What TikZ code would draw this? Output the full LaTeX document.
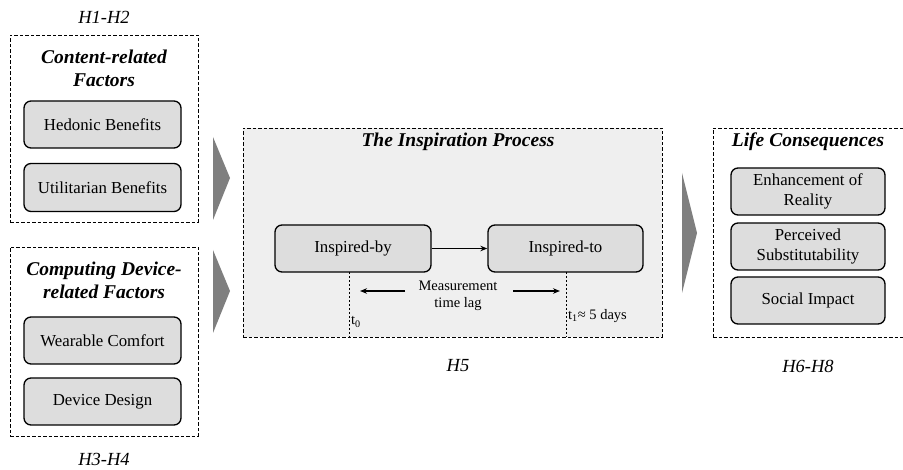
\documentclass[tikz,border=0pt]{standalone}
\usepackage{fontspec}
\setmainfont{Liberation Serif}
\usetikzlibrary{arrows.meta,calc}
\definecolor{boxgray}{HTML}{DDDDDD}
\definecolor{panelgray}{HTML}{EFEFEF}
\definecolor{chevgray}{HTML}{7F7F7F}
\begin{document}
\begin{tikzpicture}[x=1pt,y=-1pt,
  box/.style={draw, rounded corners=7pt, fill=boxgray, line width=1.3pt, minimum height=47pt, inner sep=0pt, align=center, font=\fontsize{16.8}{20}\selectfont},
  lbox/.style={box, minimum width=157pt},
  rbox/.style={box, minimum width=154pt},
  group/.style={draw, dash pattern=on 3.5pt off 2pt, line width=0.9pt, inner sep=0pt},
  gtitle/.style={font=\fontsize{19.5}{23}\selectfont\bfseries\itshape, align=center},
  hlabel/.style={font=\fontsize{18.5}{21}\selectfont\itshape},
  small/.style={font=\fontsize{14.5}{17}\selectfont, align=center},
  chev/.style={fill=chevgray},
  lag/.style={-{Stealth[length=7pt,width=5.5pt]}, line width=1.3pt},
  tick/.style={dash pattern=on 2.5pt off 1.5pt, line width=1pt}
]
\useasboundingbox (0,0) rectangle (903,470);

% left groups
\node[group, minimum width=188pt, minimum height=187pt] (g1) at (104,128.5) {};
\node[group, minimum width=188pt, minimum height=189pt] (g2) at (104,341.5) {};
\node[hlabel] (h12) at (104,17) {H1-H2};
\node[hlabel] (h34) at (104,459) {H3-H4};
\node[gtitle] (t1) at (104,68) {Content-related\\Factors};
\node[gtitle] (t2) at (104,280) {Computing Device-\\related Factors};
\node[lbox] (hed) at (102.5,124.5) {Hedonic Benefits};
\node[lbox, minimum height=48pt] (uti) at (102.5,187.5) {Utilitarian Benefits};
\node[lbox] (wea) at (102.5,340.5) {Wearable Comfort};
\node[lbox] (dev) at (102.5,401.5) {Device Design};

% chevrons
\fill[chev] (213,137) -- (230,178) -- (213,220) -- cycle;
\fill[chev] (213,250) -- (230,291) -- (213,333) -- cycle;
\fill[chev] (682,173) -- (697,233) -- (682,293) -- cycle;

% middle panel
\node[group, fill=panelgray, minimum width=419pt, minimum height=209pt] (mid) at (452.5,232.5) {};
\node[gtitle] (tm) at (458,142) {The Inspiration Process};
\node[box, minimum width=156pt] (iby) at (353,248.5) {Inspired-by};
\node[box, minimum width=155pt] (ito) at (565.5,248.5) {Inspired-to};
\draw[-{Stealth[length=7pt,width=5.5pt]}, line width=1.4pt] (iby) -- (ito);
\coordinate (a0) at (349,272);
\coordinate (b0) at (349,337);
\coordinate (a1) at (566,272);
\coordinate (b1) at (566,337);
\draw[tick] (a0) -- (b0);
\draw[tick] (a1) -- (b1);
\node[small] (ml) at (458,296) {Measurement\\time lag};
\coordinate (la) at (405,291);
\coordinate (lb) at (360,291);
\coordinate (ra) at (513,291);
\coordinate (rb) at (560,291);
\draw[lag] (la) -- (lb);
\draw[lag] (ra) -- (rb);
\node[small, anchor=west, inner sep=0pt] (t0) at (351,322) {t\textsubscript{0}};
\node[small, anchor=west, inner sep=0pt] (t1b) at (568,316) {t\textsubscript{1}≈ 5 days};
\node[hlabel] (h5) at (458,366) {H5};

% right group
\node[group, minimum width=194pt, minimum height=209pt] (g3) at (810,232.5) {};
\node[gtitle] (tr) at (808,142) {Life Consequences};
\node[rbox] (enh) at (808,191.5) {Enhancement of\\Reality};
\node[rbox] (per) at (808,246.5) {Perceived\\Substitutability};
\node[rbox] (soc) at (808,300.5) {Social Impact};
\node[hlabel] (h68) at (808,366) {H6-H8};
\end{tikzpicture}
\end{document}
